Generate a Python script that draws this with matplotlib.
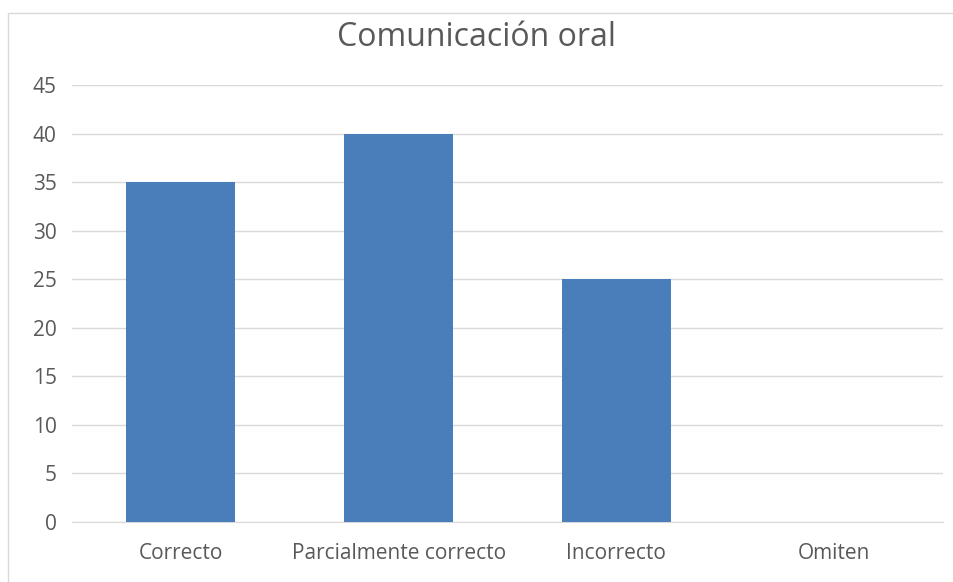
import matplotlib.pyplot as plt
from matplotlib.patches import Rectangle
import numpy as np

# datos
categorias = ["Correcto", "Parcialmente correcto", "Incorrecto", "Omiten"]
valores = [35, 40, 25, 0]
ticks_y = [0, 5, 10, 15, 20, 25, 30, 35, 40, 45]

plt.rcParams['font.family'] = ['Open Sans', 'DejaVu Sans']

fig = plt.figure(figsize=(9.54, 5.82), dpi=100)
# marco gris del grafico
fig.patches.append(Rectangle((8.5/954, -0.05), 1.0, 1 - 12.5/582 + 0.05,
                             transform=fig.transFigure, fill=False,
                             edgecolor='#D9D9D9', linewidth=1))

ax = fig.add_axes([72/954, 1 - 522/582, (943 - 72)/954, (522 - 85)/582])
x = np.arange(len(categorias))
ax.bar(x, valores, width=0.5, color='#4A7EBB', zorder=3)

ax.set_xlim(-0.5, len(categorias) - 0.5)
ax.set_ylim(0, 45)
ax.set_yticks(ticks_y)
ax.set_xticks(x)
ax.set_xticklabels(categorias)
ax.grid(axis='y', color='#D9D9D9', linewidth=1, zorder=0)
for s in ['top', 'right', 'left']:
    ax.spines[s].set_visible(False)
ax.spines['bottom'].set_color('#D9D9D9')
ax.tick_params(axis='both', length=0, labelsize=15, colors='#595959')
ax.tick_params(axis='x', pad=15)
ax.tick_params(axis='y', pad=11)

fig.text(0.5, 1 - 38/582, "Comunicación oral", ha='center', va='center',
         fontsize=23, color='#595959')

fig.savefig("out.png", dpi=100)
